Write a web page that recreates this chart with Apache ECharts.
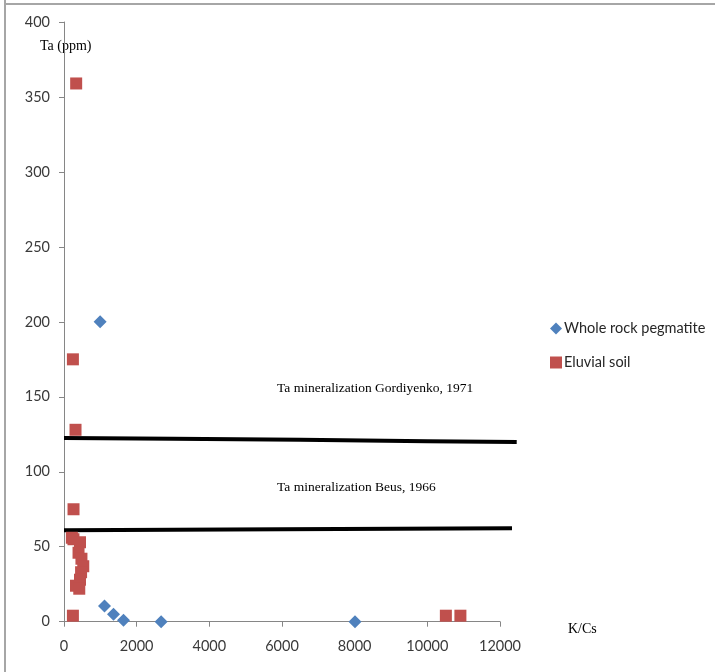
<!DOCTYPE html>
<html>
<head>
<meta charset="utf-8">
<script src="https://cdn.jsdelivr.net/npm/echarts@6/dist/echarts.min.js"></script>
<style>
html,body{margin:0;padding:0;background:#fff;}
#chart{width:715px;height:672px;}
</style>
</head>
<body>
<div id="chart"></div>
<script>
// ---- data ----
const seriesNames = ['Whole rock pegmatite', 'Eluvial soil'];
const pegmatite = [[995, 200], [1114, 10.5], [1362, 5], [1637, 1], [2673, 0], [8010, 0]];
const eluvialSoil = [
  [335, 359], [245, 175], [317, 128], [262, 75],
  [217, 56], [260, 55], [440, 53], [400, 46], [480, 42], [530, 37],
  [470, 33], [440, 28], [330, 24], [420, 22],
  [245, 4], [10510, 4], [10910, 4]
];
const gordiyenkoLine = [[0, 122.6], [3000, 122.1], [6500, 121.3], [10000, 120.4], [12460, 119.8]];
const beusLine = [[0, 61], [6000, 61.6], [12330, 62.3]];
const xTicks = { min: 0, max: 12000, interval: 2000 };
const yTicks = { min: 0, max: 400, interval: 50 };
const lineXExtent = 12460; // reference lines run past the last x tick
const yAxisTitle = 'Ta (ppm)';
const xAxisTitle = 'K/Cs';
const lineLabels = ['Ta mineralization Gordiyenko, 1971', 'Ta mineralization Beus, 1966'];

const chart = echarts.init(document.getElementById('chart'), null, { renderer: 'canvas' });
const axisColor = '#868686';
const labelFont = { color: '#3a3a3a', fontFamily: 'Lato', fontSize: 14.5 };
const serif = 'Liberation Serif';

const gridLeft = 64, gridTop = 22, gridBottom = 50.3;
const plotW = 436; // pixel width for 0..12000
const line2Right = 715 - (gridLeft + plotW * lineXExtent / xTicks.max);

chart.setOption({
  animation: false,
  backgroundColor: '#fff',
  grid: [
    { left: gridLeft, width: plotW, top: gridTop, bottom: gridBottom },
    { left: gridLeft, right: line2Right, top: gridTop, bottom: gridBottom }
  ],
  xAxis: [{
    type: 'value', gridIndex: 0, min: xTicks.min, max: xTicks.max, interval: xTicks.interval,
    axisLine: { show: true, lineStyle: { color: axisColor, width: 1 } },
    axisTick: { show: true, inside: false, length: 5, lineStyle: { color: axisColor } },
    axisLabel: Object.assign({ margin: 17, formatter: v => String(v) }, labelFont),
    splitLine: { show: false }
  }, {
    type: 'value', gridIndex: 1, min: 0, max: lineXExtent, show: false, splitLine: { show: false }
  }],
  yAxis: [{
    type: 'value', gridIndex: 0, min: yTicks.min, max: yTicks.max, interval: yTicks.interval,
    axisLine: { show: true, lineStyle: { color: axisColor, width: 1 } },
    axisTick: { show: true, inside: false, length: 5, lineStyle: { color: axisColor } },
    axisLabel: Object.assign({ margin: 14 }, labelFont),
    splitLine: { show: false }
  }, {
    type: 'value', gridIndex: 1, min: yTicks.min, max: yTicks.max, show: false, splitLine: { show: false }
  }],
  legend: {
    orient: 'vertical', left: 545, top: 316, itemWidth: 12, itemHeight: 12, itemGap: 19,
    data: [
      { name: seriesNames[0], icon: 'diamond' },
      { name: seriesNames[1], icon: 'rect' }
    ],
    textStyle: { color: '#262626', fontFamily: 'Lato', fontSize: 14.5, padding: [0, 0, 0, -3] }
  },
  series: [
    {
      name: 'gordiyenko', type: 'line', xAxisIndex: 1, yAxisIndex: 1, data: gordiyenkoLine,
      showSymbol: false, symbol: 'none', lineStyle: { color: '#000', width: 4 }, z: 1, silent: true
    },
    {
      name: 'beus', type: 'line', xAxisIndex: 1, yAxisIndex: 1, data: beusLine,
      showSymbol: false, symbol: 'none', lineStyle: { color: '#000', width: 4 }, z: 1, silent: true
    },
    {
      name: seriesNames[0], type: 'scatter', data: pegmatite, symbol: 'diamond', symbolSize: 13,
      itemStyle: { color: '#4F81BD', opacity: 1 }, z: 3
    },
    {
      name: seriesNames[1], type: 'scatter', data: eluvialSoil, symbol: 'rect', symbolSize: 12,
      itemStyle: { color: '#C0504D', opacity: 1 }, z: 3
    }
  ],
  graphic: [
    { type: 'line', shape: { x1: 5, y1: 0, x2: 5, y2: 672 }, style: { stroke: '#a6a6a6', lineWidth: 2 } },
    { type: 'line', shape: { x1: 5, y1: 4, x2: 715, y2: 4 }, style: { stroke: '#a6a6a6', lineWidth: 2 } },
    { type: 'text', left: 40, top: 39, style: { text: yAxisTitle, font: '14px "' + serif + '"', fill: '#000' } },
    { type: 'text', left: 568, top: 622, style: { text: xAxisTitle, font: '14px "' + serif + '"', fill: '#000' } },
    { type: 'text', left: 277, top: 381, style: { text: lineLabels[0], font: '13.5px "' + serif + '"', fill: '#000' } },
    { type: 'text', left: 277, top: 480, style: { text: lineLabels[1], font: '13.5px "' + serif + '"', fill: '#000' } }
  ]
});
</script>
</body>
</html>
